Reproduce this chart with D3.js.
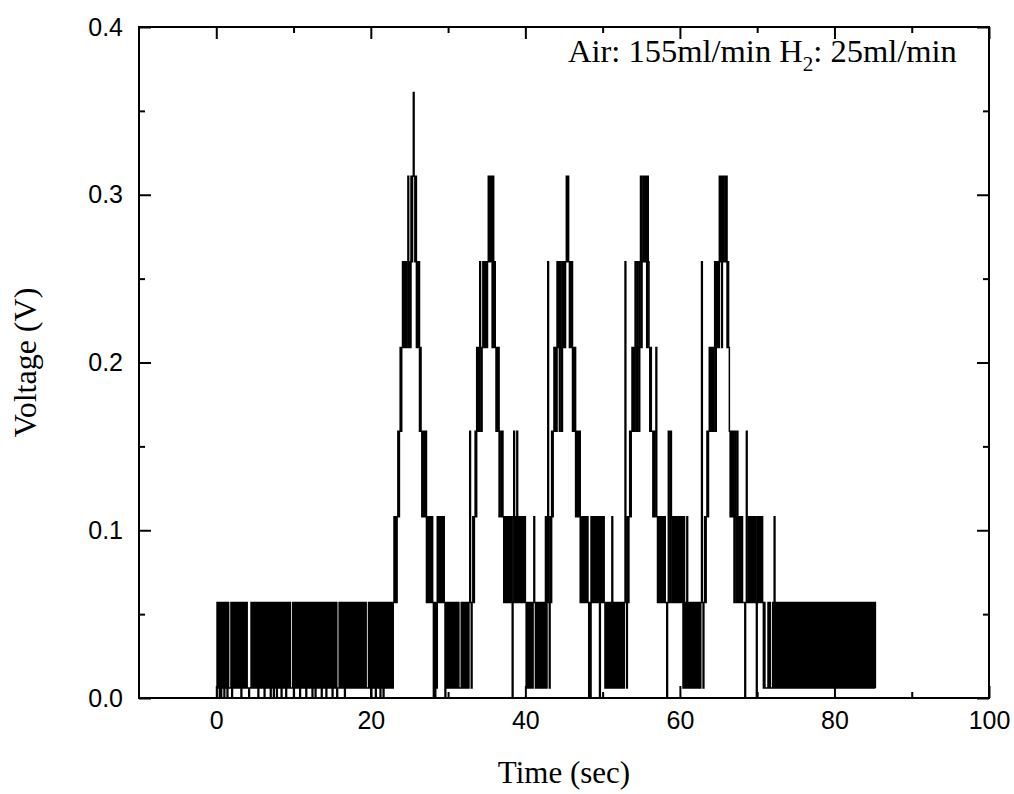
<!DOCTYPE html>
<html>
<head>
<meta charset="utf-8">
<script src="https://cdn.jsdelivr.net/npm/d3@7"></script>
<style>
  body { margin: 0; background: #fff; }
</style>
</head>
<body>
<div id="chart"></div>
<script>
// sampling step of the recorded trace (sec)
const dt = 0.1;

// quantised voltage levels of the recorder, one code letter per level
const levelCodes = ['z', '0', '1', '2', '3', '4', '5', '6', '7'];
const levelVolts = [0.000, 0.006, 0.057, 0.108, 0.159, 0.209, 0.260, 0.311, 0.361];

// trace, one code per sample, in time order from t = 0
const base0 =
    'z101z1z101' + 'z101z10001' + 'z101010101' + '01z1010101' + '00z0010101' +
    '0101z10101' + '01z1010101' + 'z101z101z1' + '0101z10101' + 'z101010001' +
    'z1010101z1' + '010101z101' + '0101z101z1' + '010101z101' + '01z1010101' +
    'z10101z001' + '010101z101' + '0101010101' + '0101010101' + '0101000101' +
    'z10101z101' + '01z101z101' + '0101010101' + '21';
const peak1 =
    '2123234345' + '4545456454' + '6567656454' + '5343232323' + '121212121z' +
    '1z10212121' + '2121z';
const base1 = '101' + '0101010101' + '0101000101' + '0101010131' + '01';
const peak2 =
    '2123243435' + '4345454545' + '6565646454' + '3434233232' + '1212121212' +
    '1z23121312' + '121212121';
const base2 = '010101010' + '1210101010' + '1010102015' + '10';
const peak3 =
    '2132343435' + '4535435454' + '5656545453' + '4342323231' + '2121212121' +
    'z1z2121212' + '1212z212121';
const base3 = '0101010' + '1020101010' + '1010101015' + '10';
const peak4 =
    '2123234343' + '5435435645' + '6565646543' + '4332323421' + '2121212121' +
    '1z13113212' + '1212121212' + '12020102';
const base4 = '0101010101' + '0101010151' + '01';
const peak5 =
    '2123234343' + '4345354546' + '5646566564' + '5432323213' + '2131212121' +
    '11z1311212' + '1212121z21' + '2121210100' + '00101000102';
const base5 =
    '0101010101' + '0101010101' + '0101010101' + '0101010101' + '0101010101' +
    '0101010101' + '0101010101' + '0101010101' + '0101010101' + '0101010101' +
    '0101010101' + '0101010101' + '0101010101' + '0';

const xMajor = [0, 20, 40, 60, 80, 100];
const xMinor = [10, 30, 50, 70, 90];
const yMajor = [0, 0.1, 0.2, 0.3, 0.4];
const yMinor = [0.05, 0.15, 0.25, 0.35];

const trace = base0 + peak1 + base1 + peak2 + base2 + peak3 + base3 + peak4 + base4 + peak5 + base5;
const data = trace.split('').map((c, i) => ({
    t: i * dt,
    v: levelVolts[levelCodes.indexOf(c)],
}));

const width = 1014;
const height = 794;
const margin = { top: 27, right: 25, bottom: 96, left: 139 };

const svg = d3.select('#chart')
    .append('svg')
    .attr('width', width)
    .attr('height', height);

const x = d3.scaleLinear()
    .domain([-10, 100])
    .range([margin.left, width - margin.right]);

const y = d3.scaleLinear()
    .domain([0, 0.4])
    .range([height - margin.bottom, margin.top]);

const line = d3.line()
    .x(d => x(d.t))
    .y(d => y(d.v))
    .curve(d3.curveStepAfter);

svg.append('path')
    .datum(data)
    .attr('fill', 'none')
    .attr('stroke', '#000')
    .attr('stroke-width', 1.5)
    .attr('d', line);

// ticks all point inward, on all four sides
let styleAxis = (g) => {
    g.select('.domain').remove();
    g.selectAll('.tick line').attr('stroke', '#000').attr('stroke-width', 2);
    g.selectAll('.tick text')
        .attr('fill', '#000')
        .attr('font-size', 25)
        .attr('font-family', 'Liberation Sans, Arial, sans-serif');
};

const atBottom = `translate(0,${height - margin.bottom})`;
const atTop = `translate(0,${margin.top})`;
const atLeft = `translate(${margin.left},0)`;
const atRight = `translate(${width - margin.right},0)`;

svg.append('g').attr('transform', atBottom)
    .call(d3.axisBottom(x).tickValues(xMajor).tickSize(-12).tickPadding(13).tickFormat(d3.format('d')))
    .call(styleAxis);
svg.append('g').attr('transform', atBottom)
    .call(d3.axisBottom(x).tickValues(xMinor).tickSize(-6).tickFormat(''))
    .call(styleAxis);
svg.append('g').attr('transform', atTop)
    .call(d3.axisTop(x).tickValues(xMajor).tickSize(-12).tickFormat(''))
    .call(styleAxis);
svg.append('g').attr('transform', atTop)
    .call(d3.axisTop(x).tickValues(xMinor).tickSize(-6).tickFormat(''))
    .call(styleAxis);

svg.append('g').attr('transform', atLeft)
    .call(d3.axisLeft(y).tickValues(yMajor).tickSize(-12).tickPadding(16).tickFormat(d3.format('.1f')))
    .call(styleAxis);
svg.append('g').attr('transform', atLeft)
    .call(d3.axisLeft(y).tickValues(yMinor).tickSize(-6).tickFormat(''))
    .call(styleAxis);
svg.append('g').attr('transform', atRight)
    .call(d3.axisRight(y).tickValues(yMajor).tickSize(-12).tickFormat(''))
    .call(styleAxis);
svg.append('g').attr('transform', atRight)
    .call(d3.axisRight(y).tickValues(yMinor).tickSize(-6).tickFormat(''))
    .call(styleAxis);

svg.append('rect')
    .attr('x', margin.left)
    .attr('y', margin.top)
    .attr('width', width - margin.left - margin.right)
    .attr('height', height - margin.top - margin.bottom)
    .attr('fill', 'none')
    .attr('stroke', '#000')
    .attr('stroke-width', 2);

const serif = 'Liberation Serif, Times New Roman, serif';

svg.append('text')
    .attr('x', (margin.left + width - margin.right) / 2)
    .attr('y', 783)
    .attr('text-anchor', 'middle')
    .attr('font-family', serif)
    .attr('font-size', 31)
    .text('Time (sec)');

svg.append('text')
    .attr('transform', `translate(36,${(margin.top + height - margin.bottom) / 2}) rotate(-90)`)
    .attr('text-anchor', 'middle')
    .attr('font-family', serif)
    .attr('font-size', 32)
    .text('Voltage (V)');

const note = svg.append('text')
    .attr('x', 568)
    .attr('y', 62)
    .attr('font-family', serif)
    .attr('font-size', 32.5);
note.append('tspan').text('Air: 155ml/min H');
note.append('tspan').attr('font-size', 21).attr('dy', 9).text('2');
note.append('tspan').attr('dy', -9).text(': 25ml/min');
</script>
</body>
</html>
